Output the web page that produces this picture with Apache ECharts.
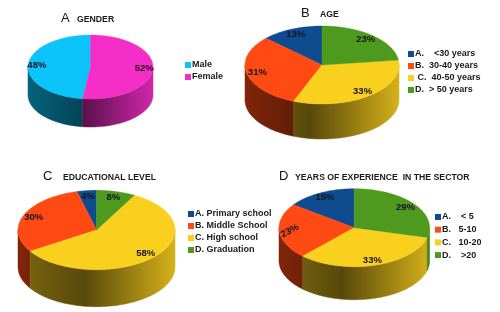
<!DOCTYPE html>
<html><head><meta charset="utf-8">
<style>html,body{margin:0;padding:0;background:#fff}#c{width:500px;height:312px}</style>
<script src="https://cdn.jsdelivr.net/npm/echarts@6/dist/echarts.min.js"></script>
</head><body><div id="c"></div>
<script>
// Data
const genderCategories = ['Male', 'Female'];
const genderValues = [48, 52];
const ageCategories = ['A.    <30 years', 'B.  30-40 years', ' C.  40-50 years', 'D.  > 50 years'];
const ageValues = [13, 31, 33, 23];
const educationCategories = ['A. Primary school', 'B. Middle School', 'C. High school', 'D. Graduation'];
const educationValues = [4, 30, 58, 8];
const experienceCategories = ['A.    < 5', 'B.   5-10', 'C.   10-20', 'D.    >20'];
const experienceValues = [15, 23, 33, 29];

// Styles and layout
const FONT = '"Liberation Sans", Arial, sans-serif';
const twoColours = ['#0CC4FA', '#F52EC8'];
const fourColours = ['#0F4C8F', '#FF4A14', '#FAD01E', '#4E9A1E'];
const panels = [
  {letter:'A', title:'GENDER', lx:61, tx:77, ty:18, ly:17, cats:genderCategories, vals:genderValues, colours:twoColours,
   cx:90.5, cy:67, rx:62.5, ry:32, depth:28, legend:{left:185, top:59, gap:0}},
  {letter:'B', title:'AGE', lx:301, tx:320, ty:13, ly:12, cats:ageCategories, vals:ageValues, colours:fourColours,
   cx:322, cy:65, rx:77, ry:39, depth:35, legend:{left:408, top:48, gap:0}},
  {letter:'C', title:'EDUCATIONAL LEVEL', lx:43, tx:63, ty:176.5, ly:175, cats:educationCategories, vals:educationValues, colours:fourColours,
   cx:96.5, cy:230, rx:78.5, ry:39.7, depth:37, legend:{left:188, top:208, gap:0}},
  {letter:'D', title:'YEARS OF EXPERIENCE  IN THE SECTOR', lx:279, tx:295, ty:176, ly:175, cats:experienceCategories, vals:experienceValues, colours:fourColours,
   cx:354.3, cy:227.7, rx:75.3, ry:39, depth:33, legend:{left:435, top:211, gap:0.7}, tilt:{1:0.5}}
];
const LABEL_RADIUS = 0.86;

function arc(p, a0, a1, dy) {
  const pts = [], n = Math.max(2, Math.ceil(Math.abs(a1 - a0) / 0.02));
  for (let i = 0; i <= n; i++) {
    const a = a0 + (a1 - a0) * i / n;
    pts.push([p.cx + p.rx * Math.sin(a), p.cy - p.ry * Math.cos(a) + dy]);
  }
  return pts;
}

function shade(colour, k) {
  const c = echarts.color.parse(colour);
  return 'rgb(' + Math.round(c[0] * k) + ',' + Math.round(c[1] * k) + ',' + Math.round(c[2] * k) + ')';
}

function sideGradient(p, colour) {
  return {type:'linear', global:true, x:p.cx - p.rx, y:0, x2:p.cx + p.rx, y2:0, colorStops:[
    {offset:0, color:shade(colour, 0.5)},
    {offset:0.42, color:shade(colour, 0.35)},
    {offset:0.8, color:shade(colour, 0.68)},
    {offset:1, color:shade(colour, 0.85)}
  ]};
}

function sliceSeries(p, i) {
  // Slices run anticlockwise from twelve o'clock, in legend order.
  const before = p.vals.slice(0, i).reduce((s, v) => s + v, 0);
  const total = p.vals.reduce((s, v) => s + v, 0);
  const colour = p.colours[i];
  return {
    type:'custom', name:p.cats[i], coordinateSystem:'none', silent:true,
    itemStyle:{color:colour}, data:[[p.vals[i]]],
    renderItem(params, api) {
      const value = api.value(0);
      const toAngle = v => echarts.number.linearMap(v, [0, total], [Math.PI * 2, 0]);
      const a0 = toAngle(before), a1 = toAngle(before + value);
      const children = [];
      // Only the front half of the rim (angles PI/2 .. 3PI/2) is visible.
      const f0 = Math.min(a0, 1.5 * Math.PI), f1 = Math.max(a1, 0.5 * Math.PI);
      if (f0 > f1) {
        const rimTop = arc(p, f0, f1, 0), rimBottom = arc(p, f1, f0, p.depth);
        const g = sideGradient(p, colour);
        children.push({type:'polygon', z2:1, shape:{points:rimTop.concat(rimBottom)},
          style:{fill:g, stroke:g, lineWidth:0.5}});
      }
      children.push({type:'polygon', z2:2, shape:{points:[[p.cx, p.cy]].concat(arc(p, a0, a1, 0))},
        style:{fill:colour, stroke:colour, lineWidth:0.4}});
      const mid = (a0 + a1) / 2;
      children.push({type:'text', z2:10,
        x:p.cx + p.rx * LABEL_RADIUS * Math.sin(mid), y:p.cy - p.ry * LABEL_RADIUS * Math.cos(mid),
        rotation:(p.tilt && p.tilt[i]) || 0,
        style:{text:value + '%', font:'bold 9.5px ' + FONT, fill:'#14141e', align:'center', verticalAlign:'middle'}});
      return {type:'group', children};
    }
  };
}

const titles = [], legends = [], series = [];
panels.forEach(p => {
  titles.push({text:p.letter, left:p.lx, top:p.ly - 5, padding:0, textStyle:{fontFamily:FONT, fontSize:13, fontWeight:'normal', color:'#111'}});
  titles.push({text:p.title, left:p.tx, top:p.ty - 3, padding:0, textStyle:{fontFamily:FONT, fontSize:8.7, fontWeight:'bold', color:'#1a1a1a'}});
  legends.push({show:true, orient:'vertical', left:p.legend.left, top:p.legend.top, itemWidth:6, itemHeight:6,
    itemGap:p.legend.gap, padding:0, icon:'rect', data:p.cats, selectedMode:false,
    textStyle:{fontFamily:FONT, fontSize:9, fontWeight:'bold', color:'#1a1a1a', lineHeight:12, padding:[0,0,0,-4]}});
  p.cats.forEach((_, i) => series.push(sliceSeries(p, i)));
});

const chart = echarts.init(document.getElementById('c'), null, {renderer:'canvas'});
chart.setOption({backgroundColor:'#fff', animation:false, title:titles, legend:legends, series});
</script></body></html>
